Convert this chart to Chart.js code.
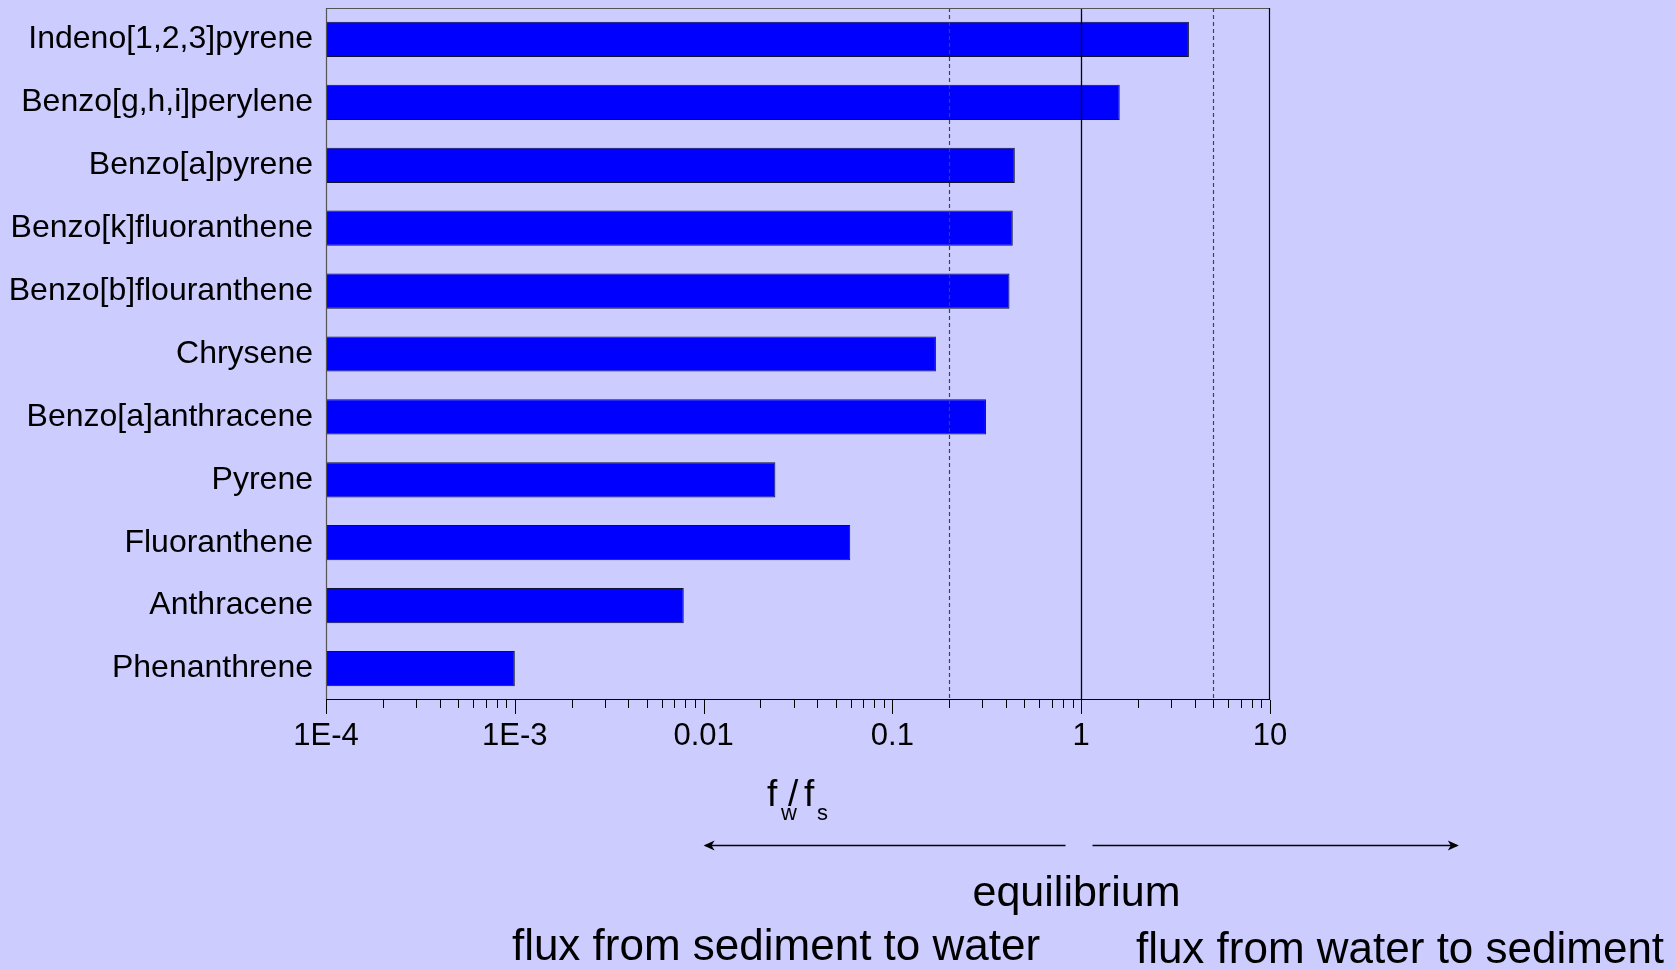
<!DOCTYPE html>
<html>
<head>
<meta charset="utf-8">
<script src="https://cdn.jsdelivr.net/npm/chart.js@4"></script>
<style>
  html, body { margin: 0; padding: 0; background: #ccccff; }
  #wrap { width: 1675px; height: 970px; }
</style>
</head>
<body>
<div id="wrap"><canvas id="chart1" width="1675" height="970"></canvas></div>
<script>
// PAH fugacity ratios
const compounds = [
  "Indeno[1,2,3]pyrene", "Benzo[g,h,i]perylene", "Benzo[a]pyrene", "Benzo[k]fluoranthene",
  "Benzo[b]flouranthene", "Chrysene", "Benzo[a]anthracene", "Pyrene", "Fluoranthene",
  "Anthracene", "Phenanthrene"
];
const ratios = [3.72, 1.60, 0.445, 0.434, 0.417, 0.170, 0.313, 0.0240, 0.0598, 0.00785, 0.00100];

const decadeTicks = [1e-4, 1e-3, 0.01, 0.1, 1, 10];
const decadeLabels = ["1E-4", "1E-3", "0.01", "0.1", "1", "10"];
const dashedLines = [0.2, 5];
const equilibrium = 1;
const arrowEnds = [0.01, 100];

const FONT = "'Liberation Sans', Arial, sans-serif";

function isDecade(v) {
  const l = Math.log10(v);
  return Math.abs(l - Math.round(l)) < 1e-9;
}

const extras = {
  id: "extras",
  afterDatasetsDraw(chart) {
    const { ctx, chartArea: a, scales: { x } } = chart;
    ctx.save();

    // reference lines
    ctx.strokeStyle = "#444";
    ctx.lineWidth = 1.2;
    ctx.setLineDash([4, 3]);
    dashedLines.forEach(v => {
      const px = Math.round(x.getPixelForValue(v)) + 0.5;
      ctx.beginPath(); ctx.moveTo(px, a.top); ctx.lineTo(px, a.bottom); ctx.stroke();
    });
    ctx.setLineDash([]);
    ctx.strokeStyle = "#000";
    ctx.lineWidth = 1.3;
    const p1 = Math.round(x.getPixelForValue(equilibrium)) + 0.5;
    ctx.beginPath(); ctx.moveTo(p1, a.top); ctx.lineTo(p1, a.bottom); ctx.stroke();

    // frame
    ctx.lineWidth = 1.2;
    ctx.strokeStyle = "#555";
    ctx.beginPath();
    ctx.moveTo(a.left + 0.5, a.bottom); ctx.lineTo(a.left + 0.5, a.top + 0.5); ctx.lineTo(a.right, a.top + 0.5);
    ctx.stroke();
    ctx.strokeStyle = "#000";
    ctx.beginPath();
    ctx.moveTo(a.right - 0.5, a.top); ctx.lineTo(a.right - 0.5, a.bottom - 0.5); ctx.lineTo(a.left, a.bottom - 0.5);
    ctx.stroke();

    // tick marks
    ctx.lineWidth = 1;
    x.ticks.forEach(t => {
      const px = Math.round(x.getPixelForValue(t.value)) + 0.5;
      const len = isDecade(t.value) ? 14 : 8;
      ctx.beginPath(); ctx.moveTo(px, a.bottom); ctx.lineTo(px, a.bottom + len); ctx.stroke();
    });

    // axis title f_w/f_s
    const cx = (a.left + a.right) / 2;
    ctx.fillStyle = "#000";
    ctx.textBaseline = "alphabetic";
    ctx.textAlign = "left";
    ctx.font = "37px " + FONT;
    ctx.fillText("f", cx - 31, 806);
    ctx.fillText("/", cx - 10, 806);
    ctx.fillText("f", cx + 6, 806);
    ctx.font = "22px " + FONT;
    ctx.fillText("w", cx - 17, 820);
    ctx.fillText("s", cx + 19, 820);

    // flux arrows
    const ay = 845.5;
    const left0 = x.getPixelForValue(arrowEnds[0]);
    const right1 = x.getPixelForValue(arrowEnds[1]);
    ctx.lineWidth = 1.3;
    ctx.beginPath(); ctx.moveTo(p1 - 16, ay); ctx.lineTo(left0 + 2, ay); ctx.stroke();
    ctx.beginPath(); ctx.moveTo(p1 + 11, ay); ctx.lineTo(right1 - 2, ay); ctx.stroke();
    ctx.beginPath();
    ctx.moveTo(left0, ay); ctx.lineTo(left0 + 11, ay - 5); ctx.lineTo(left0 + 8, ay); ctx.lineTo(left0 + 11, ay + 5); ctx.closePath();
    ctx.fill();
    ctx.beginPath();
    ctx.moveTo(right1, ay); ctx.lineTo(right1 - 11, ay - 5); ctx.lineTo(right1 - 8, ay); ctx.lineTo(right1 - 11, ay + 5); ctx.closePath();
    ctx.fill();

    ctx.textAlign = "center";
    ctx.textBaseline = "middle";
    ctx.font = "43px " + FONT;
    ctx.fillText("equilibrium", p1 - 5, 894);
    ctx.font = "44px " + FONT;
    ctx.fillText("flux from sediment to water", 776, 948);
    ctx.fillText("flux from water to sediment", 1400, 951);
    ctx.restore();
  }
};

new Chart(document.getElementById("chart1").getContext("2d"), {
  type: "bar",
  data: {
    labels: compounds,
    datasets: [{
      data: ratios,
      backgroundColor: "#0000ff",
      borderColor: "#111133",
      borderWidth: 1,
      borderSkipped: false,
      barPercentage: 0.56,
      categoryPercentage: 1
    }]
  },
  options: {
    indexAxis: "y",
    responsive: false,
    animation: false,
    layout: { padding: { top: 8, right: 405, left: 0, bottom: 0 } },
    plugins: { legend: { display: false }, tooltip: { enabled: false } },
    scales: {
      x: {
        type: "logarithmic",
        min: 1e-4,
        max: 10,
        grid: { display: false, drawTicks: false },
        border: { display: false },
        afterBuildTicks(scale) {
          const ticks = [];
          decadeTicks.forEach((d, i) => {
            if (i === decadeTicks.length - 1) { ticks.push({ value: d }); return; }
            for (let m = 1; m <= 9; m++) ticks.push({ value: m * d });
          });
          scale.ticks = ticks;
        },
        afterFit(scale) { scale.height = 270; },
        ticks: {
          autoSkip: false,
          maxRotation: 0,
          padding: 18,
          color: "#000",
          font: { family: FONT, size: 31 },
          callback(v) {
            if (!isDecade(v)) return "";
            const i = decadeTicks.findIndex(d => Math.abs(Math.log10(d) - Math.log10(v)) < 1e-9);
            return i >= 0 ? decadeLabels[i] : "";
          }
        }
      },
      y: {
        grid: { display: false, drawTicks: false },
        border: { display: false },
        afterFit(scale) {
          scale.width = 326;
          scale.paddingTop = 0;
          scale.paddingBottom = 0;
        },
        ticks: {
          padding: 13,
          color: "#000",
          font: { family: FONT, size: 32 }
        }
      }
    }
  },
  plugins: [extras]
});
</script>
</body>
</html>
